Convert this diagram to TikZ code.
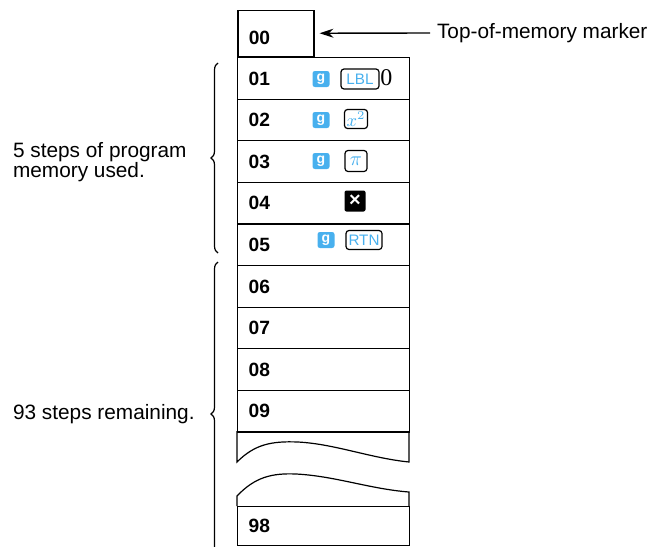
\documentclass[tikz,border=0pt]{standalone}
\usepackage{fontspec}
\setmainfont{Liberation Sans}
\newfontfamily\serifface{Liberation Serif}
\usetikzlibrary{arrows.meta, decorations.pathreplacing}

\definecolor{keyblue}{RGB}{72,176,238}

\tikzset{
  memrow/.style={draw, line width=0.6pt, anchor=north west, minimum height=20.8pt,
    text width=75pt, inner xsep=5.5pt, align=left, font=\bfseries\fontsize{9.6}{10}\selectfont},
  gkey/.style={fill=keyblue, rounded corners=1.2pt, minimum width=8.5pt, minimum height=8pt,
    inner sep=0pt, text=white, font=\bfseries\fontsize{7}{7}\selectfont},
  fkey/.style={draw, line width=0.6pt, rounded corners=1.5pt, minimum height=10pt,
    inner sep=0.6pt, text=keyblue, font=\fontsize{7.6}{8}\selectfont},
  opkey/.style={fill=black, rounded corners=1pt, minimum size=10.5pt, inner sep=0pt,
    text=white, font=\bfseries\fontsize{10}{10}\selectfont},
  note/.style={font=\fontsize{10.4}{9.8}\selectfont, align=left},
}

\begin{document}
\begin{tikzpicture}[x=0.5pt, y=-0.5pt, >={Stealth[length=7pt, width=4.5pt]}]
  \useasboundingbox (0,0) rectangle (653,546);

  % --- 1. memory rows ---
  \node[memrow, text width=27pt, minimum height=0pt, inner ysep=3pt, text height=14pt, text depth=3pt,
    anchor=south west, line width=0.75pt] (r00) at (237,57) {00};
  \foreach \n [count=\i from 0] in {01,02,03,04,05,06,07,08,09}
    \node[memrow] (r\n) at (237,{57+41.6*\i}) {\n};
  \node[memrow, minimum height=19.5pt] (r98) at (237,506) {98};

  % --- 2. break in the column ---
  \draw[line width=0.6pt] (237,431) -- (237,462)
    .. controls (255,444) and (272,441) .. (298,442)
    .. controls (335,444) and (370,458) .. (409,462) -- (409,431);
  \draw[line width=0.6pt] (237,506) -- (237,496)
    .. controls (255,477) and (272,473) .. (296,474)
    .. controls (335,476) and (370,489) .. (409,492) -- (409,506);

  % --- 3. keys of the program ---
  \node[gkey] (g01) at (321,79) {g};
  \node[fkey, minimum width=19pt] (lbl) at (360,79) {LBL};
  \node[anchor=west, inner sep=0pt, font=\serifface\fontsize{12}{12}\selectfont] (zero) at (380,78) {0};

  \node[gkey] (g02) at (321,120) {g};
  \node[fkey, minimum width=11.5pt, minimum height=9.5pt, inner sep=0pt,
    font=\fontsize{8.6}{8.6}\selectfont] (sq) at (356,119) {\raisebox{-0.6pt}{$x^{2}$}};

  \node[gkey] (g03) at (321,161) {g};
  \node[fkey, minimum width=11pt, minimum height=10.5pt, inner sep=0pt,
    font=\fontsize{10}{10}\selectfont] (pi) at (356,161) {$\pi$};

  \node[opkey] (times) at (355,201) {×};

  \node[gkey] (g05) at (326,240) {g};
  \node[fkey, minimum width=18pt, minimum height=9.5pt, inner sep=0.5pt] (rtn) at (364,240) {RTN};

  % --- 4. marker ---
  \node[note, anchor=west] (marker) at (430,33) {Top-of-memory marker};
  \draw[->, line width=0.7pt, shorten >=2.5pt] (marker.west) -- (r00.east);

  % --- 5. braces and notes ---
  \draw[decorate, decoration={brace, amplitude=3.5pt}, line width=0.6pt] (218,253) -- (218,63);
  \begin{scope}
    \clip (0,0) rectangle (653,546);
    \draw[decorate, decoration={brace, amplitude=3.5pt}, line width=0.6pt] (218,566) -- (218,262);
  \end{scope}
  \node[note, anchor=west] (used) at (6,162) {5 steps of program\\memory used.};
  \node[note, anchor=west] (rest) at (6,414) {93 steps remaining.};

\end{tikzpicture}
\end{document}
